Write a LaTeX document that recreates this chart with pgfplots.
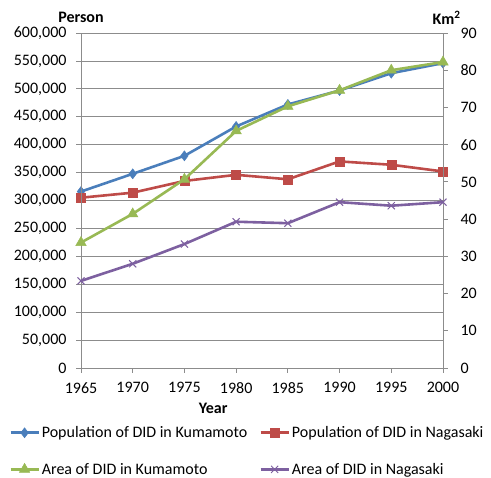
\documentclass[border=0pt]{standalone}
\usepackage{pgfplots}
\pgfplotsset{compat=1.18}
\usepackage{fontspec}
\setmainfont{Carlito}
\definecolor{cblue}{HTML}{4A7EBB}
\definecolor{cred}{HTML}{BE4B48}
\definecolor{cgreen}{HTML}{98B954}
\definecolor{cpurple}{HTML}{7D60A0}
\definecolor{gridc}{HTML}{8C8C8C}
\newcommand{\F}{\fontsize{16}{19}\selectfont}
\pgfplotsset{
  common/.style={
    scale only axis, width=362pt, height=335pt,
    xmin=1965, xmax=2000,
    clip mode=individual,
    axis line style={gridc, line width=0.8pt},
    tick style={gridc, line width=0.8pt},
    tick align=outside, major tick length=5pt,
    scaled ticks=false,
    tick label style={font=\F},
    every axis plot/.append style={line width=2.6pt},
  },
  legend image code/.code={\draw[mark repeat=2,mark phase=2,#1] plot coordinates {(0pt,0pt) (14pt,0pt) (28pt,0pt)};},
}
\begin{document}
\begin{tikzpicture}[font=\F]
\useasboundingbox (-81pt,-110pt) rectangle (410pt,368pt);
\begin{axis}[common,
  ymin=0, ymax=600000,
  xtick={1965,1970,1975,1980,1985,1990,1995,2000},
  xticklabels={1965,1970,1975,1980,1985,1990,1995,2000},
  ytick={0,50000,100000,150000,200000,250000,300000,350000,400000,450000,500000,550000,600000},
  yticklabels={0,{50,000},{100,000},{150,000},{200,000},{250,000},{300,000},{350,000},{400,000},{450,000},{500,000},{550,000},{600,000}},
  xtick pos=left, ytick pos=left,
  xticklabel style={yshift=-6pt},
  yticklabel style={xshift=-6pt},
  ymajorgrids, grid style={gridc, line width=0.8pt},
  xlabel={\textbf{Year}}, xlabel style={at={(axis description cs:0.365,-0.122)}, anchor=center},
]
\addplot[cblue, mark=diamond*, mark size=5pt, mark options={line width=0.5pt}] coordinates {
(1965,316000) (1970,347800) (1975,380000) (1980,432600) (1985,472000) (1990,497000) (1995,528000) (2000,546000)};
\addplot[cred, mark=square*, mark size=4.5pt, mark options={line width=0.5pt}] coordinates {
(1965,305000) (1970,314000) (1975,335000) (1980,346000) (1985,338000) (1990,370000) (1995,364000) (2000,352000)};
\node[font=\F\bfseries] at (axis description cs:0,1.046) {Person};
\node[font=\F\bfseries] at (axis description cs:1.01,1.046) {Km\textsuperscript{2}};
\end{axis}
\begin{axis}[common,
  ymin=0, ymax=90,
  ytick={0,10,20,30,40,50,60,70,80,90},
  yticklabels={0,10,20,30,40,50,60,70,80,90},
  hide x axis,
  ytick pos=right, yticklabel pos=right,
  yticklabel style={xshift=9pt},
  legend columns=2,
  legend cell align=left,
  legend style={draw=none, fill=none, at={(axis description cs:-0.207,-0.162)}, anchor=north west,
    /tikz/every even column/.append style={column sep=10pt},
    row sep=20pt, font=\F},
]
\addlegendimage{cblue, line width=2.6pt, mark=diamond*, mark size=5pt, mark options={line width=0.5pt}}
\addlegendentry{Population of DID in Kumamoto}
\addlegendimage{cred, line width=2.6pt, mark=square*, mark size=4.5pt, mark options={line width=0.5pt}}
\addlegendentry{Population of DID in Nagasaki}
\addplot[cgreen, mark=triangle*, mark size=6pt, mark options={line width=0.5pt}] coordinates {
(1965,33.7) (1970,41.4) (1975,50.7) (1980,63.7) (1985,70.3) (1990,74.6) (1995,80.0) (2000,82.2)};
\addlegendentry{Area of DID in Kumamoto}
\addplot[cpurple, mark=x, mark size=5pt, mark options={line width=1pt}] coordinates {
(1965,23.4) (1970,28.0) (1975,33.3) (1980,39.3) (1985,38.9) (1990,44.55) (1995,43.6) (2000,44.55)};
\addlegendentry{Area of DID in Nagasaki}
\end{axis}
\end{tikzpicture}
\end{document}
